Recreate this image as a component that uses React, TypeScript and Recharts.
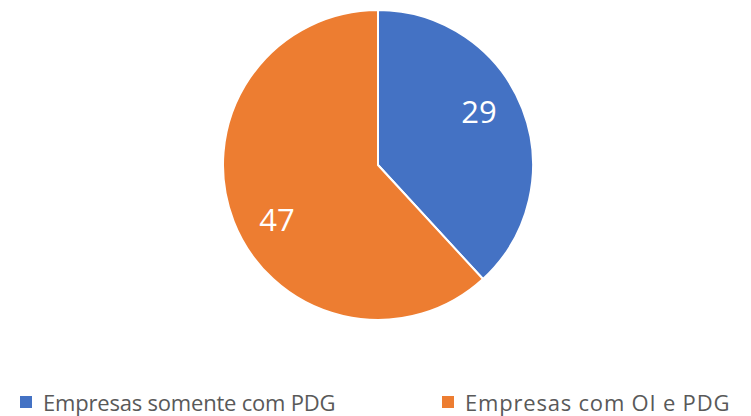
import React from 'react';
import { PieChart, Pie, Cell, Legend } from 'recharts';

const categories = ['Empresas somente com PDG', 'Empresas com OI e PDG'];
const values = [29, 47];
const colors = ['#4472C4', '#ED7D31'];

const chartData = categories.map((name, i) => ({ name, value: values[i] }));

const RADIAN = Math.PI / 180;

const renderLabel = (props: any) => {
  const { cx, cy, midAngle, outerRadius, value } = props;
  const r = outerRadius * 0.74;
  const a = midAngle + 7;
  const x = cx + r * Math.cos(-a * RADIAN);
  const y = cy + r * Math.sin(-a * RADIAN);
  return (
    <text
      x={x}
      y={y}
      fill="#FFFFFF"
      fontSize={31}
      fontFamily="'Open Sans', sans-serif"
      textAnchor="middle"
      dominantBaseline="central"
    >
      {value}
    </text>
  );
};

const legendLeft = [20, 442];
const legendSpacing = [-0.2, 0.8];

const renderLegend = () => (
  <div
    style={{
      position: 'relative',
      height: 20,
      fontFamily: "'Open Sans', sans-serif",
      fontSize: 22,
      lineHeight: '20px',
      color: '#595959',
      whiteSpace: 'nowrap',
    }}
  >
    {categories.map((name, i) => (
      <div
        key={name}
        style={{
          position: 'absolute',
          left: legendLeft[i],
          top: 0,
          height: 20,
          display: 'flex',
          alignItems: 'center',
          letterSpacing: legendSpacing[i],
        }}
      >
        <span
          style={{
            display: 'inline-block',
            width: 12,
            height: 12,
            background: colors[i],
            marginRight: 11,
          }}
        />
        {name}
      </div>
    ))}
  </div>
);

export default function App() {
  return (
    <div style={{ position: 'absolute', left: 0, top: 0, width: 751, height: 416, background: '#fff', overflow: 'hidden' }}>
      <PieChart width={751} height={416} margin={{ top: 0, right: 0, bottom: 0, left: 0 }}>
        <Pie
          data={chartData}
          dataKey="value"
          nameKey="name"
          cx={378}
          cy={165}
          outerRadius={155}
          startAngle={90}
          endAngle={-270}
          stroke="#FFFFFF"
          strokeWidth={2}
          label={renderLabel}
          labelLine={false}
          isAnimationActive={false}
        >
          {chartData.map((entry, index) => (
            <Cell key={`cell-${index}`} fill={colors[index]} />
          ))}
        </Pie>
        <Legend
          content={renderLegend}
          wrapperStyle={{ left: 0, top: 392, width: 751 }}
        />
      </PieChart>
    </div>
  );
}
